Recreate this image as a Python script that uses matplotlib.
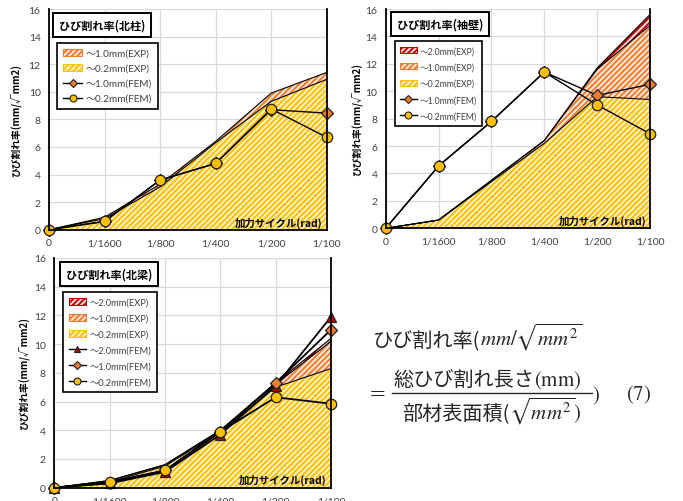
import matplotlib
matplotlib.use("Agg")
import matplotlib.pyplot as plt
from matplotlib.patches import Patch
from matplotlib.lines import Line2D

plt.rcParams['font.family'] = ['Lato', 'Noto Sans CJK JP', 'DejaVu Sans']
plt.rcParams['hatch.linewidth'] = 1.4
plt.rcParams['mathtext.fontset'] = 'stix'

W, H = 683, 502

categories = ['0', '1/1600', '1/800', '1/400', '1/200', '1/100']

# --- North column (北柱)
col_exp_10 = [0, 0.9, 3.3, 6.4, 9.9, 11.4]
col_exp_02 = [0, 0.8, 3.1, 6.3, 9.3, 10.9]
col_fem_10 = [0, 0.6, 3.6, 4.8, 8.7, 8.45]
col_fem_02 = [0, 0.6, 3.6, 4.8, 8.75, 6.7]

# --- Wing wall (袖壁)
wall_exp_20 = [0, 0.6, 3.5, 6.4, 11.7, 15.6]
wall_exp_10 = [0, 0.6, 3.5, 6.4, 11.6, 14.8]
wall_exp_02 = [0, 0.6, 3.4, 6.2, 9.6, 9.4]
wall_fem_10 = [0, 4.55, 7.8, 11.4, 9.7, 10.5]
wall_fem_02 = [0, 4.55, 7.8, 11.4, 9.0, 6.9]

# --- North beam (北梁)
beam_exp_20 = [0, 0.5, 1.6, 4.0, 7.3, 10.4]
beam_exp_10 = [0, 0.5, 1.6, 4.0, 7.2, 10.2]
beam_exp_02 = [0, 0.4, 1.5, 3.9, 7.0, 8.3]
beam_fem_20 = [0, 0.3, 1.1, 3.7, 7.1, 11.9]
beam_fem_10 = [0, 0.35, 1.2, 3.9, 7.3, 11.0]
beam_fem_02 = [0, 0.4, 1.2, 3.9, 6.3, 5.85]

RED, ORANGE, YELLOW = '#C00000', '#ED7D31', '#FFC000'
FACE = {RED: '#F8E0E0', ORANGE: '#FCE6D6', YELLOW: '#FFF2C8'}

fig = plt.figure(figsize=(W / 100, H / 100), dpi=100)


def px_axes(x0, x1, ytop, ybot):
    return fig.add_axes([x0 / W, 1 - ybot / H, (x1 - x0) / W, (ybot - ytop) / H])


def fx(x):
    return x / W


def fy(y):
    return 1 - y / H


def setup(ax, ylab_x, title, title_xy):
    ax.set_xlim(0, len(categories) - 1)
    ax.set_ylim(0, 16)
    ax.set_yticks(range(0, 17, 2))
    ax.set_xticks(range(len(categories)))
    ax.set_xticklabels(categories)
    ax.tick_params(length=0, labelsize=7.5, colors='#404040', pad=6)
    ax.grid(True, color='#D9D9D9', lw=0.9)
    ax.set_axisbelow(True)
    for s in ['left', 'right', 'bottom']:
        ax.spines[s].set_color('black')
        ax.spines[s].set_linewidth(1.3)
        ax.spines[s].set_zorder(6)
    ax.spines['top'].set_visible(False)
    fig.text(fx(ylab_x), (ax.get_position().y0 + ax.get_position().y1) / 2,
             'ひび割れ率(mm/√mm2)', rotation=90, ha='center', va='center',
             fontsize=7, fontweight='bold', family=['Noto Sans CJK JP'])
    ax.text(0.985, 0.035, '加力サイクル(rad)', transform=ax.transAxes, ha='right',
            va='center', fontsize=7.5, fontweight='bold', family=['Noto Sans CJK JP'],
            zorder=7)
    fig.text(fx(title_xy[0]), fy(title_xy[1]), title, ha='left', va='center',
             fontsize=8, fontweight='bold', family=['Noto Sans CJK JP'], zorder=10,
             bbox=dict(boxstyle='square,pad=0.5', fc='white', ec='black', lw=1.4))


def area(ax, y, color):
    x = range(len(y))
    ax.fill_between(x, 0, y, facecolor=FACE[color], edgecolor=color, hatch='//////',
                    linewidth=0, zorder=2)
    ax.plot(x, y, color='black', lw=0.8, zorder=3)


def fem(ax, y, marker, color, ms, lw=1.0):
    ax.plot(range(len(y)), y, color='black', lw=lw, marker=marker, ms=ms,
            mfc=color, mec='#202020', mew=0.9, zorder=5, clip_on=False)


def legend(ax, handles, labels, anchor_px, fs, spacing):
    leg = ax.legend(handles, labels, loc='upper left',
                    bbox_to_anchor=(fx(anchor_px[0]), fy(anchor_px[1])),
                    bbox_transform=fig.transFigure, fontsize=fs, frameon=True,
                    fancybox=False, edgecolor='black', framealpha=1,
                    labelspacing=spacing, handlelength=1.9, handletextpad=0.35,
                    borderpad=0.6, borderaxespad=0,
                    prop={'family': ['Lato', 'Noto Sans CJK JP'], 'size': fs})
    leg.get_frame().set_linewidth(1.2)
    leg.set_zorder(10)
    for t in leg.get_texts():
        t.set_color('#404040')


def hpatch(color):
    return Patch(facecolor=FACE[color], edgecolor=color, hatch='//////', lw=0.8)


def hline(marker, color, ms):
    return Line2D([], [], color='black', lw=1, marker=marker, ms=ms, mfc=color,
                  mec='#202020', mew=0.8)


# ---------------- chart 1
ax1 = px_axes(49, 326.7, 10, 230.7)
setup(ax1, 17, 'ひび割れ率(北柱)', (59, 26))
area(ax1, col_exp_10, ORANGE)
area(ax1, col_exp_02, YELLOW)
fem(ax1, col_fem_10, 'D', ORANGE, 6.5)
fem(ax1, col_fem_02, 'o', YELLOW, 7.5)
legend(ax1, [hpatch(ORANGE), hpatch(YELLOW), hline('D', ORANGE, 4), hline('o', YELLOW, 5)],
       ['～1.0mm(EXP)', '～0.2mm(EXP)', '～1.0mm(FEM)', '～0.2mm(FEM)'],
       (57, 44), 7.2, 0.6)

# ---------------- chart 2
ax2 = px_axes(385.7, 650, 10, 229.3)
setup(ax2, 358, 'ひび割れ率(袖壁)', (397, 25))
area(ax2, wall_exp_20, RED)
area(ax2, wall_exp_10, ORANGE)
area(ax2, wall_exp_02, YELLOW)
fem(ax2, wall_fem_10, 'D', ORANGE, 6.5)
fem(ax2, wall_fem_02, 'o', YELLOW, 7.5)
legend(ax2, [hpatch(RED), hpatch(ORANGE), hpatch(YELLOW), hline('D', ORANGE, 4),
             hline('o', YELLOW, 5)],
       ['～2.0mm(EXP)', '～1.0mm(EXP)', '～0.2mm(EXP)', '～1.0mm(FEM)', '～0.2mm(FEM)'],
       (395, 42), 6.2, 0.85)

# ---------------- chart 3
ax3 = px_axes(54.3, 331, 259, 488.7)
setup(ax3, 25, 'ひび割れ率(北梁)', (66, 275))
area(ax3, beam_exp_20, RED)
area(ax3, beam_exp_10, ORANGE)
area(ax3, beam_exp_02, YELLOW)
fem(ax3, beam_fem_20, '^', RED, 7.5, 1.3)
fem(ax3, beam_fem_10, 'D', ORANGE, 6.5, 1.3)
fem(ax3, beam_fem_02, 'o', YELLOW, 7.5, 1.3)
legend(ax3, [hpatch(RED), hpatch(ORANGE), hpatch(YELLOW), hline('^', RED, 5),
             hline('D', ORANGE, 4), hline('o', YELLOW, 5)],
       ['～2.0mm(EXP)', '～1.0mm(EXP)', '～0.2mm(EXP)', '～2.0mm(FEM)', '～1.0mm(FEM)',
        '～0.2mm(FEM)'],
       (63, 293), 6.7, 0.75)

# ---------------- equation (7)
renderer = fig.canvas.get_renderer()
CJK = dict(family=['Noto Sans CJK JP'], fontsize=14.5, color='#262626')
MATH = dict(fontsize=15, color='#262626')


def seq(x_px, y_px, pieces):
    x = x_px
    for txt, kw in pieces:
        t = fig.text(fx(x), fy(y_px), txt, ha='left', va='baseline', **kw)
        bb = t.get_window_extent(renderer)
        x += bb.width
    return x


seq(373, 346, [('ひび割れ率(', CJK), (r'$mm/\sqrt{mm^2}$', MATH)])
seq(369, 400, [('=', dict(fontsize=15, color='#262626', family=['DejaVu Serif']))])
fig.add_artist(Line2D([fx(392), fx(592)], [fy(394), fy(394)], color='#262626', lw=1.0))
seq(393, 386, [('総ひび割れ長さ', CJK), (r'$\mathrm{(mm)}$', MATH)])
seq(402, 420, [('部材表面積(', CJK), (r'$\sqrt{mm^2})$', MATH)])
seq(592, 401, [(r'$)$', MATH)])
seq(626, 400, [(r'$\mathrm{(7)}$', MATH)])

fig.savefig('out.png', dpi=100)
